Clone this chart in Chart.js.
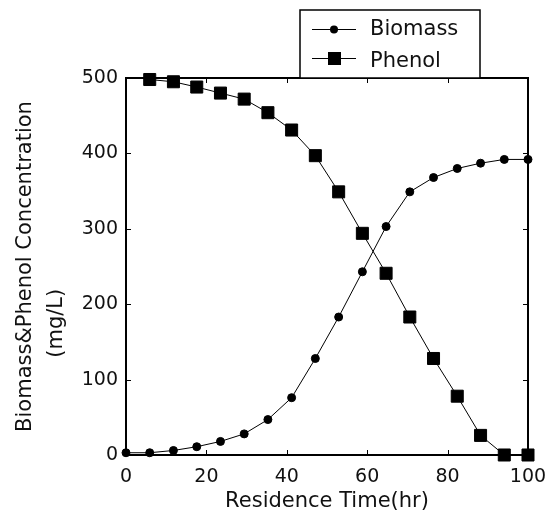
<!DOCTYPE html>
<html>
<head>
<meta charset="utf-8">
<script src="https://cdn.jsdelivr.net/npm/chart.js@4.4.1/dist/chart.umd.min.js"></script>
<style>
  html, body { margin: 0; padding: 0; background: #fff; }
  #wrap { width: 548px; height: 518px; }
</style>
</head>
<body>
<div id="wrap"><canvas id="chart" width="548" height="518"></canvas></div>
<script>
// 체류 시간 (hr) 과 농도 (mg/L)
const biomassTime = [0, 5.9, 11.8, 17.6, 23.5, 29.4, 35.3, 41.2, 47.1, 52.9, 58.8, 64.7, 70.6, 76.5, 82.4, 88.2, 94.1, 100];
const biomassConc = [3, 3, 6, 11, 18, 28, 47, 76, 128, 183, 243, 303, 349, 368, 380, 387, 392, 392];
const phenolTime = [5.9, 11.8, 17.6, 23.5, 29.4, 35.3, 41.2, 47.1, 52.9, 58.8, 64.7, 70.6, 76.5, 82.4, 88.2, 94.1, 100];
const phenolConc = [498, 495, 488, 480, 472, 454, 431, 397, 349, 294, 241, 183, 128, 78, 26, 0, 0];
const xTicks = [0, 20, 40, 60, 80, 100];
const yTicks = [0, 100, 200, 300, 400, 500];

const FONT = '"DejaVu Sans", sans-serif';
const INK = '#111';

// 박스 테두리 + 안쪽 눈금 (네 변 모두)
const framePlugin = {
    id: 'frame',
    beforeDatasetsDraw(chart) {
        const { ctx, chartArea: a, scales } = chart;
        ctx.save();
        ctx.strokeStyle = '#000';
        ctx.lineWidth = 1;
        ctx.beginPath();
        xTicks.forEach(v => {
            const px = Math.round(scales.x.getPixelForValue(v)) + 0.5;
            ctx.moveTo(px, a.bottom); ctx.lineTo(px, a.bottom - 5);
            ctx.moveTo(px, a.top); ctx.lineTo(px, a.top + 5);
        });
        yTicks.forEach(v => {
            const py = Math.round(scales.y.getPixelForValue(v)) + 0.5;
            ctx.moveTo(a.left, py); ctx.lineTo(a.left + 5, py);
            ctx.moveTo(a.right, py); ctx.lineTo(a.right - 5, py);
        });
        ctx.stroke();
        ctx.lineWidth = 2;
        ctx.strokeRect(a.left, a.top, a.right - a.left, a.bottom - a.top);
        ctx.restore();
    }
};

// 범례 박스
const legendPlugin = {
    id: 'boxLegend',
    afterDraw(chart) {
        const { ctx } = chart;
        ctx.save();
        ctx.fillStyle = '#fff';
        ctx.fillRect(300, 10, 180, 68);
        ctx.strokeStyle = '#000';
        ctx.lineWidth = 1.5;
        ctx.strokeRect(300, 10, 180, 68);

        ctx.lineWidth = 1;
        ctx.fillStyle = '#000';
        // Biomass
        ctx.beginPath(); ctx.moveTo(312, 29.5); ctx.lineTo(356, 29.5); ctx.stroke();
        ctx.beginPath(); ctx.arc(334, 29.5, 4, 0, Math.PI * 2); ctx.fill();
        // Phenol
        ctx.beginPath(); ctx.moveTo(312, 58.5); ctx.lineTo(356, 58.5); ctx.stroke();
        ctx.fillRect(328, 52, 13, 13);

        ctx.fillStyle = INK;
        ctx.font = '21px ' + FONT;
        ctx.textBaseline = 'alphabetic';
        ctx.fillText('Biomass', 370, 35);
        ctx.fillText('Phenol', 370, 67);
        ctx.restore();
    }
};

const toPoints = (xs, ys) => xs.map((x, i) => ({ x, y: ys[i] }));

new Chart(document.getElementById('chart'), {
    type: 'scatter',
    data: {
        datasets: [
            {
                label: 'Biomass',
                data: toPoints(biomassTime, biomassConc),
                showLine: true,
                borderColor: '#000',
                borderWidth: 1,
                pointStyle: 'circle',
                pointRadius: 4,
                pointBackgroundColor: '#000',
                pointBorderColor: '#000',
                pointBorderWidth: 1,
                clip: false
            },
            {
                label: 'Phenol',
                data: toPoints(phenolTime, phenolConc),
                showLine: true,
                borderColor: '#000',
                borderWidth: 1,
                pointStyle: 'rect',
                pointRadius: 8.5,
                pointBackgroundColor: '#000',
                pointBorderColor: '#000',
                pointBorderWidth: 1,
                clip: false
            }
        ]
    },
    options: {
        responsive: false,
        animation: false,
        layout: { padding: { top: 78, right: 20, left: 0, bottom: 0 } },
        plugins: { legend: { display: false }, tooltip: { enabled: false } },
        scales: {
            x: {
                type: 'linear',
                min: 0,
                max: 100,
                afterBuildTicks: s => { s.ticks = xTicks.map(v => ({ value: v })); },
                afterFit: s => { s.height = 63; s.paddingLeft = 0; s.paddingRight = 0; },
                grid: { display: false, drawTicks: false },
                border: { display: false },
                ticks: { font: { family: FONT, size: 19 }, color: INK, padding: 11, maxRotation: 0 },
                title: {
                    display: true,
                    text: 'Residence Time(hr)',
                    font: { family: FONT, size: 21 },
                    color: INK,
                    padding: { top: 0, bottom: 4 }
                }
            },
            y: {
                min: 0,
                max: 500,
                afterBuildTicks: s => { s.ticks = yTicks.map(v => ({ value: v })); },
                afterFit: s => { s.width = 126; s.paddingTop = 0; s.paddingBottom = 0; },
                grid: { display: false, drawTicks: false },
                border: { display: false },
                ticks: { font: { family: FONT, size: 19 }, color: INK, padding: 8 },
                title: {
                    display: true,
                    text: ['Biomass&Phenol Concentration', '(mg/L)' + ' '.repeat(17)],
                    font: { family: FONT, size: 21, lineHeight: 1.48 },
                    color: INK,
                    padding: { top: 10, bottom: 0 }
                }
            }
        }
    },
    plugins: [framePlugin, legendPlugin]
});
</script>
</body>
</html>
